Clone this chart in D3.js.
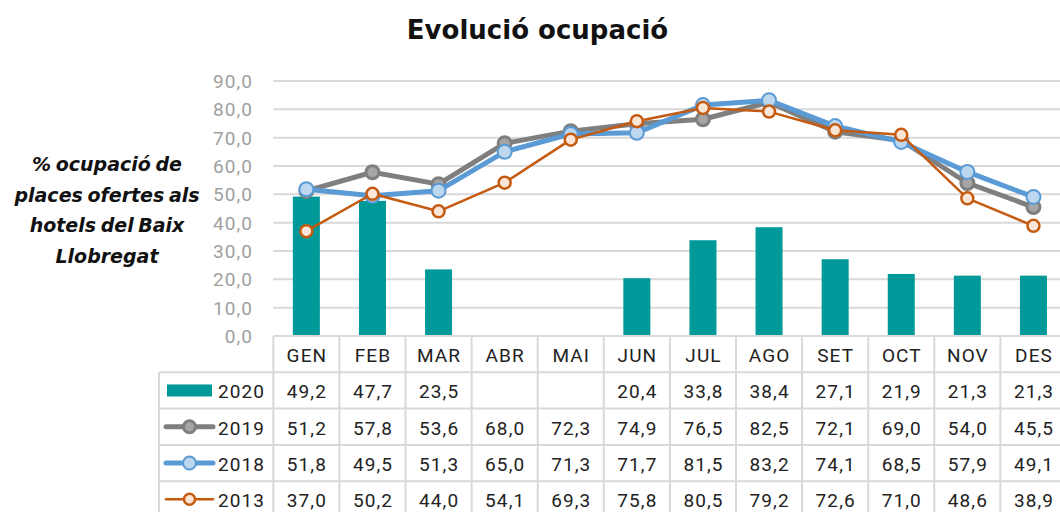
<!DOCTYPE html>
<html><head><meta charset="utf-8">
<script src="https://cdn.jsdelivr.net/npm/d3@7"></script>
<style>html,body{margin:0;padding:0;background:#fff;}svg{display:block;}</style>
</head><body>
<svg id="c" width="1060" height="512"></svg>
<script>
const months = ["GEN","FEB","MAR","ABR","MAI","JUN","JUL","AGO","SET","OCT","NOV","DES"];
const v2020 = [49.2,47.7,23.5,null,null,20.4,33.8,38.4,27.1,21.9,21.3,21.3];
const v2019 = [51.2,57.8,53.6,68.0,72.3,74.9,76.5,82.5,72.1,69.0,54.0,45.5];
const v2018 = [51.8,49.5,51.3,65.0,71.3,71.7,81.5,83.2,74.1,68.5,57.9,49.1];
const v2013 = [37.0,50.2,44.0,54.1,69.3,75.8,80.5,79.2,72.6,71.0,48.6,38.9];
const yTicks = [0,10,20,30,40,50,60,70,80,90];
const seriesNames = ["2020","2019","2018","2013"];
const title = "Evolució ocupació";
const yLabelLines = ["% ocupació de","places ofertes als","hotels del Baix","Llobregat"];

const svg = d3.select("#c");
const FONT = "Roboto, 'Liberation Sans', sans-serif";
const LS = 1.1;
const left = 273.3, colW = 66.1;
const x = d3.scaleBand().domain(months).range([left, left + colW*12]);
const y = d3.scaleLinear().domain([0,90]).range([336, 81]);
const fmt = v => v == null ? "" : v.toFixed(1).replace(".", ",");
const cx = m => x(m) + x.bandwidth()/2;

// title
svg.append("text").attr("x", 537.5).attr("y", 39).attr("text-anchor","middle")
  .attr("font-family", "'DejaVu Sans', sans-serif").attr("font-weight","bold").attr("font-size", 26)
  .attr("fill","#111")
  .text(title);

// gridlines
svg.append("g").selectAll("line").data(yTicks.filter(t=>t>0)).join("line")
  .attr("x1", left).attr("x2", left + colW*12)
  .attr("y1", d=>y(d)).attr("y2", d=>y(d))
  .attr("stroke","#d9d9d9").attr("stroke-width",2);

// y tick labels
svg.append("g").selectAll("text").data(yTicks).join("text")
  .attr("x", 252+LS).attr("y", d=>y(d)+7).attr("text-anchor","end")
  .attr("font-family", FONT).attr("font-size", 19).attr("letter-spacing", LS).attr("fill","#a0a0a0")
  .text(d=>fmt(d));

// y label
const yl = svg.append("text").attr("font-family", "'DejaVu Sans', sans-serif").attr("font-weight","bold")
  .attr("font-style","italic").attr("font-size", 19).attr("word-spacing",-2).attr("fill","#111").attr("text-anchor","middle");
yLabelLines.forEach((t,i)=>yl.append("tspan").attr("x",107).attr("y",171+i*30.5).text(t));

// bars
const barW = 27;
svg.append("g").selectAll("rect").data(months.map((m,i)=>({m,v:v2020[i]})).filter(d=>d.v!=null)).join("rect")
  .attr("x", d=>cx(d.m)-barW/2).attr("width", barW)
  .attr("y", d=>y(d.v)).attr("height", d=>y(0)-y(d.v))
  .attr("fill","#009999");

const styles = {
  "2019": {stroke:"#7f7f7f", w:5, fill:"#a5a5a5", ms:"#7f7f7f", msw:3, r:6.5, data:v2019},
  "2018": {stroke:"#5b9bd5", w:5, fill:"#bdd7ee", ms:"#5b9bd5", msw:2, r:7, data:v2018},
  "2013": {stroke:"#c55a11", w:2.5, fill:"#fbe5d6", ms:"#c55a11", msw:2.5, r:6, data:v2013}
};
const line = d3.line().x((d,i)=>cx(months[i])).y(d=>y(d));
["2019","2018","2013"].forEach(k=>{
  const s = styles[k];
  const g = svg.append("g");
  g.append("path").datum(s.data).attr("d", line).attr("fill","none")
    .attr("stroke", s.stroke).attr("stroke-width", s.w).attr("stroke-linejoin","round");
  g.selectAll("circle").data(s.data).join("circle")
    .attr("cx",(d,i)=>cx(months[i])).attr("cy",d=>y(d)).attr("r",s.r)
    .attr("fill",s.fill).attr("stroke",s.ms).attr("stroke-width",s.msw);
});

// table
const rowTop = 336, hdrH = 36.3, rowH = 36.3, tLeft = 159;
const right = left + colW*12;
const tg = svg.append("g");
const gridC = "#d9d9d9";
tg.append("line").attr("x1",left).attr("x2",right).attr("y1",rowTop).attr("y2",rowTop).attr("stroke",gridC).attr("stroke-width",2);
for (let r=1;r<=5;r++){
  const yy = rowTop + hdrH + (r-1)*rowH;
  tg.append("line").attr("x1",tLeft).attr("x2",right).attr("y1",yy).attr("y2",yy).attr("stroke",gridC).attr("stroke-width",2);
}
const bottom = rowTop + hdrH + 4*rowH;
months.forEach(m=>{
  tg.append("line").attr("x1",x(m)).attr("x2",x(m)).attr("y1",rowTop).attr("y2",bottom).attr("stroke",gridC).attr("stroke-width",2);
});
tg.append("line").attr("x1",tLeft).attr("x2",tLeft).attr("y1",rowTop+hdrH).attr("y2",bottom).attr("stroke",gridC).attr("stroke-width",2);

// header
tg.selectAll("text.h").data(months).join("text").attr("class","h")
  .attr("x", d=>cx(d)+LS/2).attr("y", rowTop+26).attr("text-anchor","middle")
  .attr("font-family",FONT).attr("font-size",19).attr("letter-spacing", LS).attr("fill","#222").text(d=>d);

const rows = [v2020, v2019, v2018, v2013];
rows.forEach((vals, r)=>{
  const yy = rowTop + hdrH + r*rowH + 26;
  tg.append("g").selectAll("text").data(vals).join("text")
    .attr("x",(d,i)=>cx(months[i])+LS/2).attr("y",yy).attr("text-anchor","middle")
    .attr("font-family",FONT).attr("font-size",19).attr("letter-spacing", LS).attr("fill","#222").text(d=>fmt(d));
  const ly = rowTop + hdrH + r*rowH + rowH/2;
  const name = seriesNames[r];
  if (name === "2020") {
    tg.append("rect").attr("x",167).attr("y",ly-6).attr("width",45).attr("height",12).attr("fill","#009999");
  } else {
    const s = styles[name];
    tg.append("line").attr("x1",166).attr("x2",213).attr("y1",ly).attr("y2",ly)
      .attr("stroke",s.stroke).attr("stroke-width",s.w).attr("stroke-linecap","round");
    tg.append("circle").attr("cx",189.5).attr("cy",ly).attr("r",s.r-0.5)
      .attr("fill",s.fill).attr("stroke",s.ms).attr("stroke-width",s.msw);
  }
  tg.append("text").attr("x",218).attr("y",yy).attr("font-family",FONT).attr("font-size",19)
    .attr("letter-spacing", LS).attr("fill","#222").text(name);
});
</script>
</body></html>
